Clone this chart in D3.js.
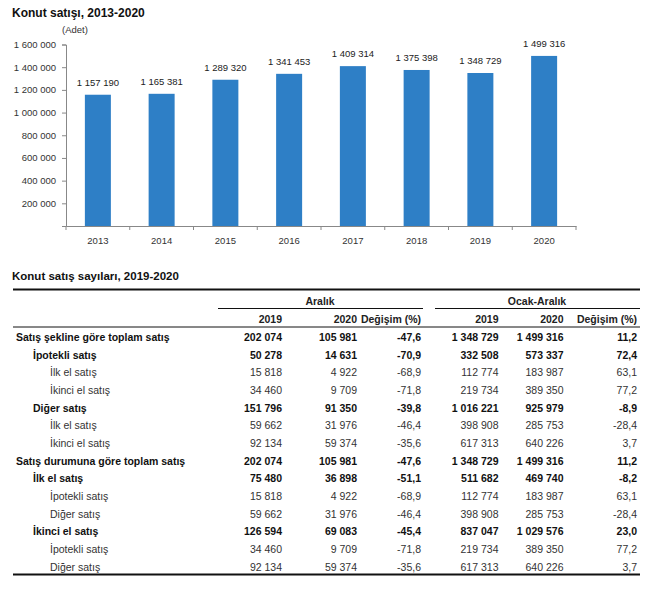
<!DOCTYPE html>
<html><head><meta charset="utf-8">
<script src="https://cdn.jsdelivr.net/npm/d3@7"></script>
<style>body{margin:0;background:#fff;} svg{display:block;font-family:"Liberation Sans",Arial,sans-serif;}</style>
</head><body>
<svg id="c" width="650" height="589"></svg>
<script>
const years = ["2013","2014","2015","2016","2017","2018","2019","2020"];
const sales = [1157190,1165381,1289320,1341453,1409314,1375398,1348729,1499316];
const yTicks = [0,200000,400000,600000,800000,1000000,1200000,1400000,1600000];

const rowLabels = ["Satış şekline göre toplam satış","İpotekli satış","İlk el satış","İkinci el satış","Diğer satış","İlk el satış","İkinci el satış","Satış durumuna göre toplam satış","İlk el satış","İpotekli satış","Diğer satış","İkinci el satış","İpotekli satış","Diğer satış"];
const rowLevels = [0,1,2,2,1,2,2,0,1,2,2,1,2,2];
const dec2019 = [202074,50278,15818,34460,151796,59662,92134,202074,75480,15818,59662,126594,34460,92134];
const dec2020 = [105981,14631,4922,9709,91350,31976,59374,105981,36898,4922,31976,69083,9709,59374];
const decChg = ["-47,6","-70,9","-68,9","-71,8","-39,8","-46,4","-35,6","-47,6","-51,1","-68,9","-46,4","-45,4","-71,8","-35,6"];
const yr2019 = [1348729,332508,112774,219734,1016221,398908,617313,1348729,511682,112774,398908,837047,219734,617313];
const yr2020 = [1499316,573337,183987,389350,925979,285753,640226,1499316,469740,183987,285753,1029576,389350,640226];
const yrChg = ["11,2","72,4","63,1","77,2","-8,9","-28,4","3,7","11,2","-8,2","63,1","-28,4","23,0","77,2","3,7"];
const groupHeaders = ["Aralık","Ocak-Aralık"];
const colHeaders = ["2019","2020","Değişim (%)","2019","2020","Değişim (%)"];

const fmt = v => d3.format(",")(v).replace(/,/g, " ");
const svg = d3.select("#c");
const txt = "#222";

// ---- Bar chart ----
svg.append("text").attr("x",12).attr("y",17).attr("font-size",12).attr("font-weight","bold").attr("fill","#111").text("Konut satışı, 2013-2020");
svg.append("text").attr("x",62).attr("y",33).attr("font-size",9.5).attr("fill","#333").text("(Adet)");

const x = d3.scaleBand().domain(years).range([66,576]).paddingInner(0.6).paddingOuter(0.3);
const y = d3.scaleLinear().domain([0,1600000]).range([226,44.5]);

const ya = svg.append("g").attr("transform","translate(66,0)")
  .call(d3.axisLeft(y).tickValues(yTicks).tickSize(4).tickFormat(d => d===0 ? "" : fmt(d)));
ya.select(".domain").attr("stroke","#888");
ya.selectAll(".tick line").attr("stroke","#888");
ya.selectAll("text").attr("font-size",9.5).attr("fill","#333").attr("font-family","Liberation Sans, Arial").attr("dx",-3);
ya.selectAll(".tick").filter(d=>d===0).select("line").remove();

const xb = d3.scaleBand().domain(years).range([66,576]);
const xa = svg.append("g").attr("transform","translate(0,226)")
  .call(d3.axisBottom(xb).tickSize(0).tickPadding(11));
xa.select(".domain").attr("stroke","#888");
xa.selectAll("text").attr("font-size",9.5).attr("fill","#333").attr("font-family","Liberation Sans, Arial");
svg.append("g").selectAll("line").data(d3.range(years.length+1)).join("line")
  .attr("x1",i=>66+i*xb.step()).attr("x2",i=>66+i*xb.step()).attr("y1",226).attr("y2",230).attr("stroke","#888");

svg.append("g").selectAll("rect").data(years).join("rect")
  .attr("x",(d)=>xb(d)+xb.bandwidth()/2-13).attr("width",26)
  .attr("y",(d,i)=>y(sales[i])).attr("height",(d,i)=>226-y(sales[i]))
  .attr("fill","#2e7fc6");
svg.append("g").selectAll("text").data(years).join("text")
  .attr("x",d=>xb(d)+xb.bandwidth()/2).attr("y",(d,i)=>y(sales[i])-9)
  .attr("text-anchor","middle").attr("font-size",9.5).attr("fill","#222")
  .text((d,i)=>fmt(sales[i]));

// ---- Table ----
svg.append("text").attr("x",12).attr("y",280).attr("font-size",11.5).attr("font-weight","bold").attr("fill","#111").text("Konut satış sayıları, 2019-2020");
svg.append("line").attr("x1",13).attr("x2",640).attr("y1",289.5).attr("y2",289.5).attr("stroke","#111").attr("stroke-width",2);
svg.append("text").attr("x",320).attr("y",305).attr("text-anchor","middle").attr("font-size",10.5).attr("font-weight","bold").attr("fill",txt).text(groupHeaders[0]);
svg.append("text").attr("x",537).attr("y",305).attr("text-anchor","middle").attr("font-size",10.5).attr("font-weight","bold").attr("fill",txt).text(groupHeaders[1]);
svg.append("line").attr("x1",218).attr("x2",423).attr("y1",308.5).attr("y2",308.5).attr("stroke","#111").attr("stroke-width",1);
svg.append("line").attr("x1",435).attr("x2",640).attr("y1",308.5).attr("y2",308.5).attr("stroke","#111").attr("stroke-width",1);

const colRight = [282,357,421,498.5,563.5,637];
colHeaders.forEach((h,i)=>{
  svg.append("text").attr("x",colRight[i]).attr("y",323).attr("text-anchor","end").attr("font-size",10.5).attr("font-weight","bold").attr("fill",txt).text(h);
});
svg.append("line").attr("x1",13).attr("x2",640).attr("y1",327).attr("y2",327).attr("stroke","#111").attr("stroke-width",1);

const rowY = d3.scaleLinear().domain([0,13]).range([341,570.5]);
const indent = [16,33,50];
const rows = svg.append("g").selectAll("g").data(rowLabels).join("g")
  .attr("transform",(d,i)=>`translate(0,${rowY(i)})`)
  .attr("font-size",10.5)
  .attr("font-weight",(d,i)=>rowLevels[i]<2?"bold":"normal")
  .attr("fill",(d,i)=>rowLevels[i]<2?"#111":"#333");
rows.append("text").attr("x",(d,i)=>indent[rowLevels[i]]).text(d=>d);
const cols = [dec2019.map(fmt),dec2020.map(fmt),decChg,yr2019.map(fmt),yr2020.map(fmt),yrChg];
cols.forEach((c,j)=>{
  rows.append("text").attr("x",colRight[j]).attr("text-anchor","end").text((d,i)=>c[i]);
});
svg.append("line").attr("x1",13).attr("x2",640).attr("y1",574.5).attr("y2",574.5).attr("stroke","#111").attr("stroke-width",2);
</script>
</body></html>
